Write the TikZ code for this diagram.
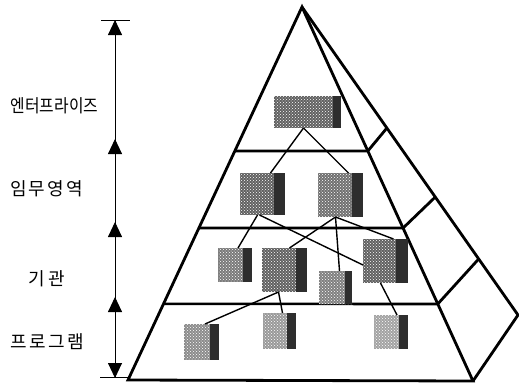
\documentclass[tikz,border=0pt]{standalone}
\usepackage{fontspec}
\setmainfont{Noto Sans CJK KR}
\usetikzlibrary{calc,arrows.meta,patterns}

\tikzset{
  edge/.style={line width=2.8pt, line join=miter},
  level/.style={line width=2.6pt},
  link/.style={line width=1.4pt},
  axis/.style={line width=0.9pt},
  axtip/.style={line width=0.9pt, -{Triangle[length=15pt,width=14pt]}},
  lbl/.style={font=\fontsize{18}{18}\selectfont, inner sep=0pt},
  tile/.style={rectangle, inner sep=0pt, outer sep=0pt, anchor=north west,
    fill=#1,
    path picture={
      \fill[pattern=crosshatch dots, pattern color=white]
        (path picture bounding box.south west) rectangle (path picture bounding box.north east);
      \fill[black!82]
        ([xshift=-\stripw]path picture bounding box.north east)
        rectangle (path picture bounding box.south east);
    }},
  tile/.default=black!62,
}
\newlength{\stripw}
\setlength{\stripw}{10pt}

\begin{document}
\begin{tikzpicture}[x=1pt,y=-1pt]
  \useasboundingbox (0,0) rectangle (519,386);

  % pyramid corners
  \coordinate (P)  at (302,7);
  \coordinate (BL) at (128,380);
  \coordinate (BR) at (473,381);
  \coordinate (BK) at (518,315);

  % level boundaries on the front face and the side face
  \coordinate (L1) at ($(P)!0.386!(BL)$);
  \coordinate (R1) at ($(P)!0.385!(BR)$);
  \coordinate (K1) at ($(P)!0.393!(BK)$);
  \coordinate (L2) at ($(P)!0.5925!(BL)$);
  \coordinate (R2) at ($(P)!0.591!(BR)$);
  \coordinate (K2) at ($(P)!0.617!(BK)$);
  \coordinate (L3) at ($(P)!0.796!(BL)$);
  \coordinate (R3) at ($(P)!0.794!(BR)$);
  \coordinate (K3) at ($(P)!0.818!(BK)$);

  \draw[level] (L1) -- (R1);
  \draw[level] (L2) -- (R2);
  \draw[level] (L3) -- (R3);
  \draw[edge] (R1) -- (K1);
  \draw[edge] (R2) -- (K2);
  \draw[edge] (R3) -- (K3);
  \draw[edge] (BL) -- (P) -- (BR) -- cycle;
  \draw[edge] (P) -- (BK) -- (BR);

  % tiles
  \setlength{\stripw}{8pt}
  \node[tile, minimum width=67pt, minimum height=32pt] (ent) at (274,96) {};
  \setlength{\stripw}{11pt}
  \node[tile, minimum width=45pt, minimum height=42pt] (A) at (240,173) {};
  \node[tile=black!56, minimum width=45pt, minimum height=44pt] (F) at (318,173) {};
  \setlength{\stripw}{9pt}
  \node[tile=black!52, minimum width=34pt, minimum height=34pt] (B) at (218,248) {};
  \setlength{\stripw}{11pt}
  \node[tile, minimum width=45pt, minimum height=44pt] (C) at (262,248) {};
  \setlength{\stripw}{7pt}
  \node[tile=black!50, minimum width=33pt, minimum height=33pt] (D) at (319,271) {};
  \setlength{\stripw}{12pt}
  \node[tile, minimum width=45pt, minimum height=44pt] (E) at (363,239) {};
  \setlength{\stripw}{9pt}
  \node[tile=black!45, minimum width=35pt, minimum height=36pt] (G) at (184,324) {};
  \node[tile=black!40, minimum width=33pt, minimum height=36pt] (H) at (263,313) {};
  \node[tile=black!36, minimum width=34pt, minimum height=34pt] (I) at (374,315) {};

  % links between tiles
  \draw[link] ([xshift=-4pt]ent.south) -- ([xshift=8pt]A.north);
  \draw[link] ([xshift=-4pt]ent.south) -- ([xshift=8pt]F.north);
  \draw[link] ([xshift=-5pt]A.south) -- ([xshift=3pt]B.north);
  \draw[link] ([xshift=-3pt]A.south) -- ([yshift=-4pt]E.west);
  \draw[link] ([xshift=-5pt]F.south) -- ([xshift=5pt]C.north);
  \draw[link] ([xshift=-5pt]F.south) -- ([xshift=4pt]D.north);
  \draw[link] ([xshift=-5pt]F.south) -- ([xshift=8pt]E.north);
  \draw[link] ([xshift=-6pt]C.south) -- ([xshift=-14pt]G.north east);
  \draw[link] ([xshift=-6pt]C.south) -- ([xshift=3pt]H.north);
  \draw[link] ([xshift=-5pt]E.south) -- ([xshift=6pt]I.north);

  % vertical scale with level marks
  \coordinate (ax0) at (115,20);
  \coordinate (ax1) at (115,139);
  \coordinate (ax2) at (115,222);
  \coordinate (ax3) at (115,297);
  \coordinate (ax4) at (115,378);
  \draw[axis] (ax0) -- (ax4);
  \draw[axis] ([xshift=-14pt]ax0) -- ([xshift=15pt]ax0);
  \draw[axis] ([xshift=-15pt,yshift=1pt]ax4) -- ([xshift=13pt,yshift=1pt]ax4);
  \draw[axtip] ([yshift=-15pt]ax0) -- (ax0);
  \draw[axtip] ([yshift=-15pt]ax1) -- (ax1);
  \draw[axtip] ([yshift=-15pt]ax2) -- (ax2);
  \draw[axtip] ([yshift=-15pt]ax3) -- (ax3);
  \draw[axtip] ([yshift=15pt]ax4) -- (ax4);

  % level names
  \node[lbl, xscale=0.88] (t1) at (54.5,106) {엔터프라이즈};
  \node[lbl] (t2) at (46.5,189) {임\hspace{2pt}무\hspace{2pt}영\hspace{2pt}역};
  \node[lbl] (t3) at (47,279) {기\hspace{4pt}관};
  \node[lbl] (t4) at (47,342) {프\hspace{2.5pt}로\hspace{2.5pt}그\hspace{2.5pt}램};
\end{tikzpicture}
\end{document}
